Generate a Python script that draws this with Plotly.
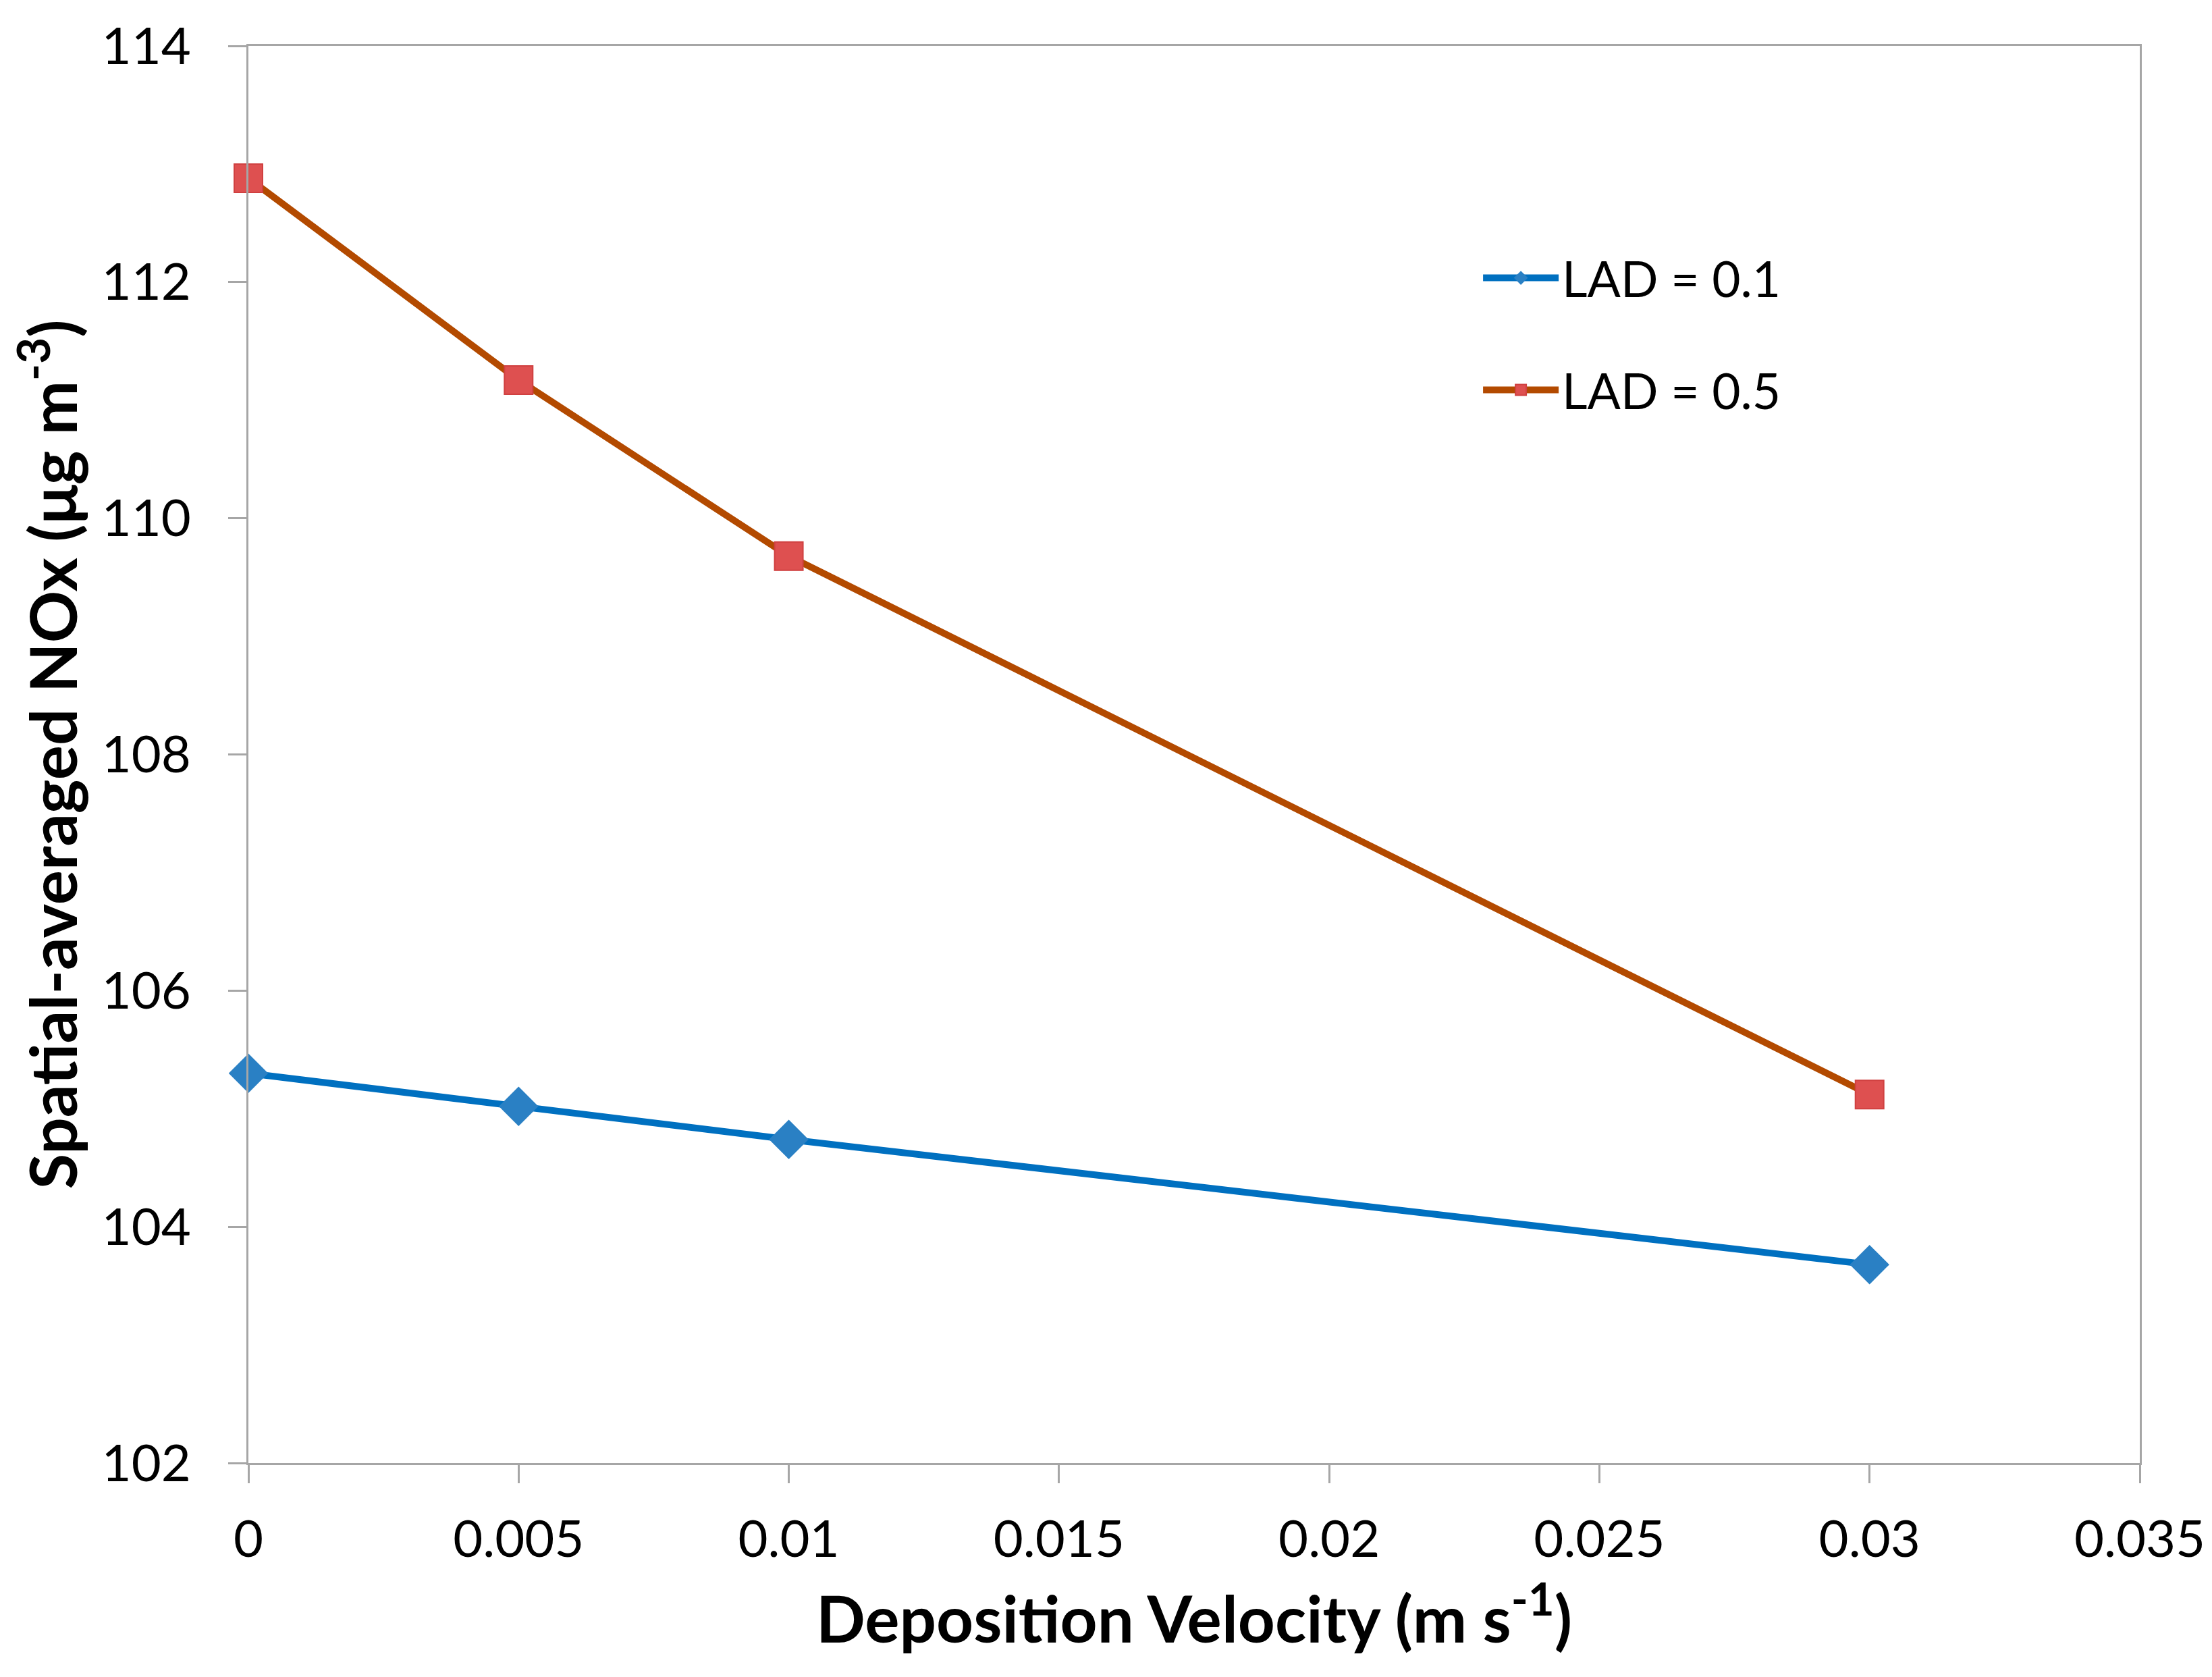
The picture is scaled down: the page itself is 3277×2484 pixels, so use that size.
import plotly.graph_objects as go

# --- Data ---
dep_velocity = [0, 0.005, 0.01, 0.03]
nox_lad01 = [105.30, 105.02, 104.74, 103.68]
nox_lad05 = [112.88, 111.17, 109.68, 105.12]

x_ticks = [0, 0.005, 0.01, 0.015, 0.02, 0.025, 0.03, 0.035]
x_ticktext = ["0", "0.005", "0.01", "0.015", "0.02", "0.025", "0.03", "0.035"]
y_ticks = [102, 104, 106, 108, 110, 112, 114]

FONT = "Lato, 'Open Sans', sans-serif"
AXIS_GREY = "#A6A6A6"

fig = go.Figure()

fig.add_trace(go.Scatter(
    x=dep_velocity, y=nox_lad01,
    mode="lines+markers", name="LAD = 0.1", legendgroup="a",
    line=dict(color="#0070C0", width=10),
    marker=dict(symbol="diamond", size=45, color="#2A80C4"),
    cliponaxis=False
))

fig.add_trace(go.Scatter(
    x=dep_velocity, y=nox_lad05,
    mode="lines+markers", name="LAD = 0.5", legendgroup="b",
    line=dict(color="#B34A00", width=10),
    marker=dict(symbol="square", size=42, color="#DE5050",
                line=dict(color="#D04040", width=2)),
    cliponaxis=False
))

fig.update_layout(
    width=3277, height=2484,
    margin=dict(l=360, r=115, t=40, b=325),
    paper_bgcolor="white", plot_bgcolor="white",
    font=dict(family=FONT, size=76, color="black"),
    showlegend=True,
    legend=dict(
        x=0.651, y=0.862, xanchor="left", yanchor="top",
        bgcolor="rgba(0,0,0,0)", font=dict(size=73),
        traceorder="grouped", tracegroupgap=68, itemwidth=112
    ),
)

fig.update_xaxes(
    range=[0, 0.035], tickvals=x_ticks, ticktext=x_ticktext,
    showgrid=False, zeroline=False,
    showline=True, linecolor=AXIS_GREY, linewidth=3, mirror=True,
    ticks="outside", ticklen=27, tickwidth=3, tickcolor=AXIS_GREY,
    tickfont=dict(size=76), ticklabelstandoff=18,
    title=dict(text="<b>Deposition Velocity (m s<sup>-1</sup>)</b>",
               font=dict(size=96), standoff=45),
)

fig.update_yaxes(
    range=[102, 114], tickvals=y_ticks,
    showgrid=False, zeroline=False,
    showline=True, linecolor=AXIS_GREY, linewidth=3, mirror=True,
    ticks="outside", ticklen=27, tickwidth=3, tickcolor=AXIS_GREY,
    tickfont=dict(size=76), ticklabelstandoff=40,
    ticklabeloverflow="allow",
    title=dict(text="<b>Spatial-averaged NOx (μg m<sup>-3</sup>)</b>",
               font=dict(size=96), standoff=30),
)

fig.write_html("out.html")
